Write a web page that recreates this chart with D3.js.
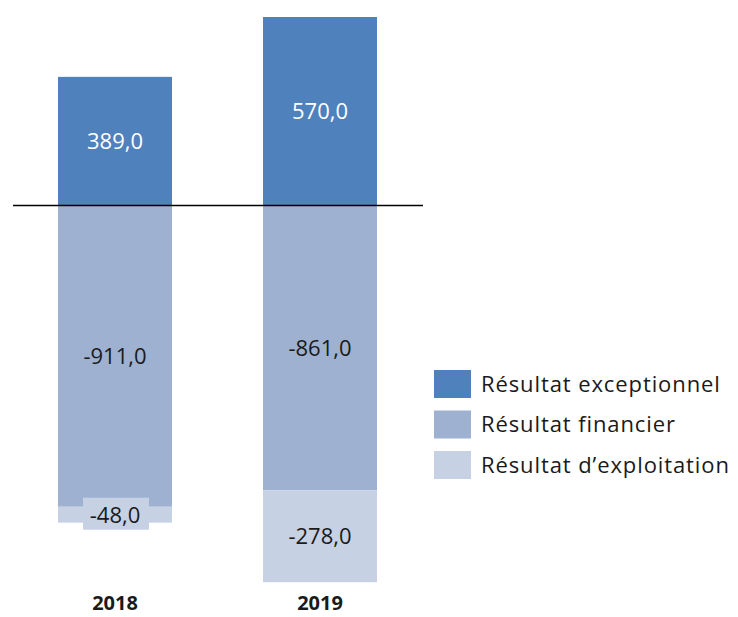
<!DOCTYPE html>
<html>
<head>
<meta charset="utf-8">
<script src="https://cdn.jsdelivr.net/npm/d3@7"></script>
<style>
  body { margin: 0; background: #fff; }
  svg text { font-family: "Open Sans", "Liberation Sans", sans-serif; }
</style>
</head>
<body>
<svg id="chart" width="738" height="617"></svg>
<script>
const years = ['2018', '2019'];
const series = ['Résultat exceptionnel', 'Résultat financier', "Résultat d’exploitation"];
const exceptionnel = [389.0, 570.0];
const financier = [-911.0, -861.0];
const exploitation = [-48.0, -278.0];
const colors = ['#4F81BD', '#9EB1D0', '#C6D1E4'];

const svg = d3.select('#chart');

const x = d3.scaleBand().domain(years).range([12.5, 422.5]).paddingInner(0.444).paddingOuter(0.222);
// zero line at ~205.5, 570 reaches ~17
const y = d3.scaleLinear().domain([0, 570]).range([205.5, 17]);

const fmt = v => v.toFixed(1).replace('.', ',');

// build stacked segments (positives up, negatives down)
const segs = [];
years.forEach((yr, i) => {
  let pos = 0, neg = 0;
  [exceptionnel[i], financier[i], exploitation[i]].forEach((v, s) => {
    let y0, y1;
    if (v >= 0) { y0 = pos; y1 = pos + v; pos = y1; }
    else { y0 = neg; y1 = neg + v; neg = y1; }
    segs.push({ yr, s, v, y0, y1 });
  });
});

svg.selectAll('rect.seg')
  .data(segs)
  .enter().append('rect')
    .attr('class', 'seg')
    .attr('x', d => x(d.yr))
    .attr('width', x.bandwidth())
    .attr('y', d => Math.min(y(d.y0), y(d.y1)))
    .attr('height', d => Math.abs(y(d.y0) - y(d.y1)))
    .style('fill', d => colors[d.s]);

// zero line
svg.append('line')
  .attr('x1', 13).attr('x2', 423)
  .attr('y1', y(0)).attr('y2', y(0))
  .attr('stroke', '#000').attr('stroke-width', 1.3);

// value labels
const lab = svg.selectAll('g.lab')
  .data(segs)
  .enter().append('g')
    .attr('class', 'lab')
    .attr('transform', d => `translate(${x(d.yr) + x.bandwidth() / 2},${(y(d.y0) + y(d.y1)) / 2})`);

// small segment gets a label box
lab.filter(d => Math.abs(y(d.y0) - y(d.y1)) < 30)
  .append('rect')
    .attr('x', -32).attr('y', -17).attr('width', 66).attr('height', 32)
    .style('fill', d => colors[d.s]);

lab.append('text')
  .attr('text-anchor', 'middle')
  .attr('dy', '0.36em')
  .attr('font-size', 22)
  .attr('fill', d => d.s === 0 ? '#fff' : '#1a1a1a')
  .text(d => fmt(d.v));

// year labels
svg.selectAll('text.year')
  .data(years)
  .enter().append('text')
    .attr('class', 'year')
    .attr('x', d => x(d) + x.bandwidth() / 2)
    .attr('y', 603)
    .attr('dy', '0.36em')
    .attr('text-anchor', 'middle')
    .attr('font-size', 20)
    .attr('font-weight', 'bold')
    .attr('fill', '#1a1a1a')
    .text(d => d);

// legend
const leg = svg.selectAll('g.leg')
  .data(series)
  .enter().append('g')
    .attr('class', 'leg')
    .attr('transform', (d, i) => `translate(434,${370 + i * 40.5})`);
leg.append('rect')
  .attr('width', 37).attr('height', 28)
  .style('fill', (d, i) => colors[i]);
leg.append('text')
  .attr('x', 47).attr('y', 14).attr('dy', '0.36em')
  .attr('font-size', 22)
  .attr('letter-spacing', 0.9)
  .attr('fill', '#1a1a1a')
  .text(d => d);
</script>
</body>
</html>
